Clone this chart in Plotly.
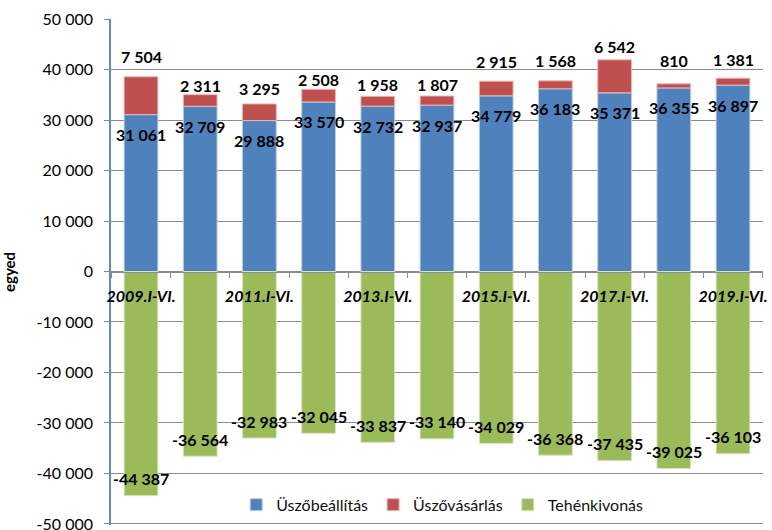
import plotly.graph_objects as go

categories = ["2009.I-VI.", "2010.I-VI.", "2011.I-VI.", "2012.I-VI.", "2013.I-VI.", "2014.I-VI.",
              "2015.I-VI.", "2016.I-VI.", "2017.I-VI.", "2018.I-VI.", "2019.I-VI."]
uszobeallitas = [31061, 32709, 29888, 33570, 32732, 32937, 34779, 36183, 35371, 36355, 36897]
uszovasarlas = [7504, 2311, 3295, 2508, 1958, 1807, 2915, 1568, 6542, 810, 1381]
tehenkivonas = [-44387, -36564, -32983, -32045, -33837, -33140, -34029, -36368, -37435, -39025, -36103]
x_tick_text = ["2009.I-VI.", "", "2011.I-VI.", "", "2013.I-VI.", "", "2015.I-VI.", "", "2017.I-VI.", "", "2019.I-VI."]
y_tick_vals = [50000, 40000, 30000, 20000, 10000, 0, -10000, -20000, -30000, -40000, -50000]
y_tick_text = ["50 000", "40 000", "30 000", "20 000", "10 000", "0", "-10 000", "-20 000",
               "-30 000", "-40 000", "-50 000"]
# pixel lift of the (manually placed) purchase labels above the stack top
red_label_lift = [20, 9, 15, 10, 12, 12, 20, 20, 13, 23, 19]

BLUE = "#4F81BD"
RED = "#C0504D"
GREEN = "#9BBB59"
FONT = "Lato"


def fmt(v):
    return f"{v:,}".replace(",", " ")


fig = go.Figure()
fig.add_bar(x=categories, y=uszobeallitas, name="Üszőbeállítás", marker_color=BLUE,
            marker_line=dict(color="#B9CDE5", width=1))
fig.add_bar(x=categories, y=uszovasarlas, name="Üszővásárlás", marker_color=RED,
            marker_line=dict(color="#E6B9B8", width=1))
fig.add_bar(x=categories, y=tehenkivonas, name="Tehénkivonás", marker_color=GREEN,
            marker_line=dict(color="#D7E4BD", width=1))

ann = []
lab_font = dict(family=FONT, size=16, color="black", weight="bold")
for c, b, r, g, lift in zip(categories, uszobeallitas, uszovasarlas, tehenkivonas, red_label_lift):
    ann.append(dict(x=c, y=b, xref="x", yref="y", text=fmt(b), showarrow=False,
                    yshift=-20, font=lab_font))
    ann.append(dict(x=c, y=b + r, xref="x", yref="y", text=fmt(r), showarrow=False,
                    yshift=lift, font=lab_font))
    ann.append(dict(x=c, y=g, xref="x", yref="y", text=fmt(g), showarrow=False,
                    yshift=17, font=lab_font))

fig.update_layout(
    width=772, height=530,
    margin=dict(l=111, r=9, t=19, b=5),
    paper_bgcolor="white", plot_bgcolor="white",
    barmode="relative", bargap=0.43,
    font=dict(family=FONT, color="black"),
    annotations=ann,
    showlegend=True,
    legend=dict(orientation="h", x=0.508, y=0.04, xanchor="center", yanchor="middle",
                bgcolor="rgba(255,255,255,0)", font=dict(family=FONT, size=16, color="#111"),
                itemwidth=30, traceorder="normal"),
    xaxis=dict(
        type="category", anchor="free", position=0.5, automargin=False,
        tickmode="array", tickvals=categories, ticktext=x_tick_text, tickangle=0,
        tickson="boundaries", ticks="outside", ticklen=5, tickcolor="#8C8C8C",
        showline=True, linecolor="#8C8C8C", linewidth=1,
        tickfont=dict(family=FONT, size=16, color="black", weight="bold", style="italic"),
        ticklabelstandoff=10,
        showgrid=False, zeroline=False, fixedrange=True,
    ),
    yaxis=dict(
        range=[-50200, 50000], tickmode="array", tickvals=y_tick_vals, ticktext=y_tick_text,
        automargin=False, ticklabeloverflow="allow",
        showgrid=True, gridcolor="#8C8C8C", gridwidth=1, zeroline=False,
        showline=True, linecolor="#5B8BD0", linewidth=1.5,
        ticks="outside", ticklen=5, tickcolor="#5B8BD0", ticklabelstandoff=8,
        tickfont=dict(family=FONT, size=16, color="black"),
        title=dict(text="egyed", font=dict(family=FONT, size=15, color="black", weight="bold"),
                   standoff=18),
    ),
)

fig.write_html("out.html", config={"displayModeBar": False},
               post_script="document.body.style.margin='0';")
